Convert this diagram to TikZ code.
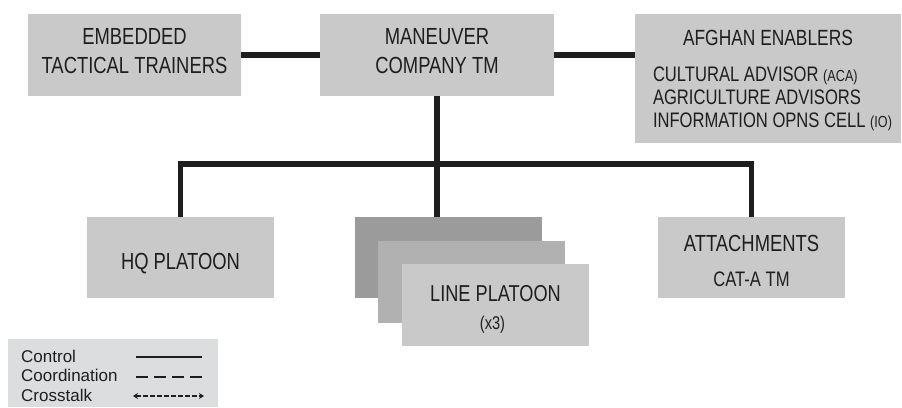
\documentclass[tikz,border=0pt]{standalone}
\usepackage{fontspec}
\setmainfont{Liberation Sans}
\newfontfamily\boxfont[FakeStretch=0.79]{Liberation Sans}
\usepackage{tikz}
\usetikzlibrary{positioning}
\usetikzlibrary{calc,arrows.meta}

\definecolor{BoxGrey}{HTML}{C9C9C9}
\definecolor{BackGrey}{HTML}{9B9B9B}
\definecolor{MidGrey}{HTML}{B1B1B1}
\definecolor{LegendGrey}{HTML}{DCDDDF}
\definecolor{InkDark}{HTML}{1E1E1E}

\tikzset{
	unit/.style={fill=BoxGrey, inner sep=0pt, text=InkDark, align=center,
		font=\boxfont\fontsize{23.3}{28.7}\selectfont},
	sublabel/.style={inner sep=0pt, text=InkDark,
		font=\boxfont\fontsize{21}{23}\selectfont},
	control/.style={draw=InkDark, line width=5.5pt},
	legendtext/.style={inner sep=0pt, anchor=base west, text=InkDark,
		font=\fontsize{17}{19}\selectfont},
}

\newcommand{\tinycaps}[1]{{\fontsize{16}{16}\selectfont #1}}

\begin{document}
\begin{tikzpicture}[x=1pt, y=-1pt]
	
	\useasboundingbox (0,0) rectangle (902,407);
	
	% top row: the company and the two partners beside it
	\node[unit, text depth=8pt, minimum width=213pt, minimum height=82pt] (Trainers) at (134.5,55) {EMBEDDED\\TACTICAL TRAINERS};
	\node[unit, text depth=8pt, minimum width=234pt, minimum height=82pt] (Company) at (437,55) {MANEUVER\\COMPANY TM};
	\node[unit, minimum width=266pt, minimum height=129pt] (Enablers) at (768,78.5) {};
	
	\node[sublabel, font=\boxfont\fontsize{22}{26}\selectfont] (EnablersLabel) at ($(Enablers.north)+(0,24.5)$) {AFGHAN ENABLERS};
	\node[sublabel, anchor=north west, align=left] (EnablersList) at ($(Enablers.north west)+(18,53)$)
		{CULTURAL ADVISOR \tinycaps{(ACA)}\\AGRICULTURE ADVISORS\\INFORMATION OPNS CELL \tinycaps{(IO)}};
	
	% bottom row: the platoons
	\node[unit, text height=23.7pt, text depth=0pt, minimum width=187pt, minimum height=81pt] (HQ) at (180.5,257.5) {HQ PLATOON};
	
	\node[unit, fill=BackGrey, minimum width=187pt, minimum height=81pt] (Line1) at (448.5,257.5) {};
	\node[unit, fill=MidGrey, minimum width=187pt, minimum height=82pt] (Line2) at (471.5,282) {};
	\node[unit, minimum width=187pt, minimum height=82pt] (Line3) at (495.5,305) {};
	\node[sublabel, font=\boxfont\fontsize{23}{26}\selectfont] (LineLabel) at ($(Line3.north)+(0,30)$) {LINE PLATOON};
	\node[sublabel, font=\boxfont\fontsize{18.5}{20}\selectfont] (LineCount) at ($(Line3.north)+(-3,61)$) {(x3)};
	
	\node[unit, minimum width=187pt, minimum height=81pt] (Attach) at (751.5,257.5) {};
	\node[sublabel, font=\boxfont\fontsize{23.3}{26}\selectfont] (AttachLabel) at ($(Attach.north)+(0,26.3)$) {ATTACHMENTS};
	\node[sublabel] (AttachList) at ($(Attach.north)+(0,62)$) {CAT-A TM};
	
	% control lines
	\coordinate (Bus) at (437,164);
	
	\draw[control] (Trainers.east) -- (Trainers.east -| Company.west);
	\draw[control] (Company.east) -- (Company.east -| Enablers.west);
	\draw[control] (Company.south) -- (Company.south |- Line1.north);
	\draw[control, line join=miter] (HQ.north) |- (Bus) -| (Attach.north);
	
	% legend
	\node[fill=LegendGrey, inner sep=0pt, minimum width=210pt, minimum height=68pt] (Legend) at (113,373) {};
	
	\node[legendtext] (ControlText) at (21,362.7) {Control};
	\node[legendtext] (CoordText) at (21,381.7) {Coordination};
	\node[legendtext] (CrossText) at (21,401) {Crosstalk};
	
	\coordinate (ControlA) at (136,357);
	\coordinate (ControlB) at (202,357);
	\coordinate (CoordA) at (136,377);
	\coordinate (CoordB) at (202,377);
	\coordinate (CrossA) at (133,396);
	\coordinate (CrossB) at (204,396);
	
	\draw[InkDark, line width=2pt] (ControlA) -- (ControlB);
	\draw[InkDark, line width=2.5pt, dash pattern=on 12pt off 6pt] (CoordA) -- (CoordB);
	\draw[InkDark, line width=1.8pt, dash pattern=on 4.5pt off 2.5pt,
		{Stealth[length=5pt,width=6pt]}-{Stealth[length=5pt,width=6pt]}] (CrossA) -- (CrossB);
	
\end{tikzpicture}
\end{document}
